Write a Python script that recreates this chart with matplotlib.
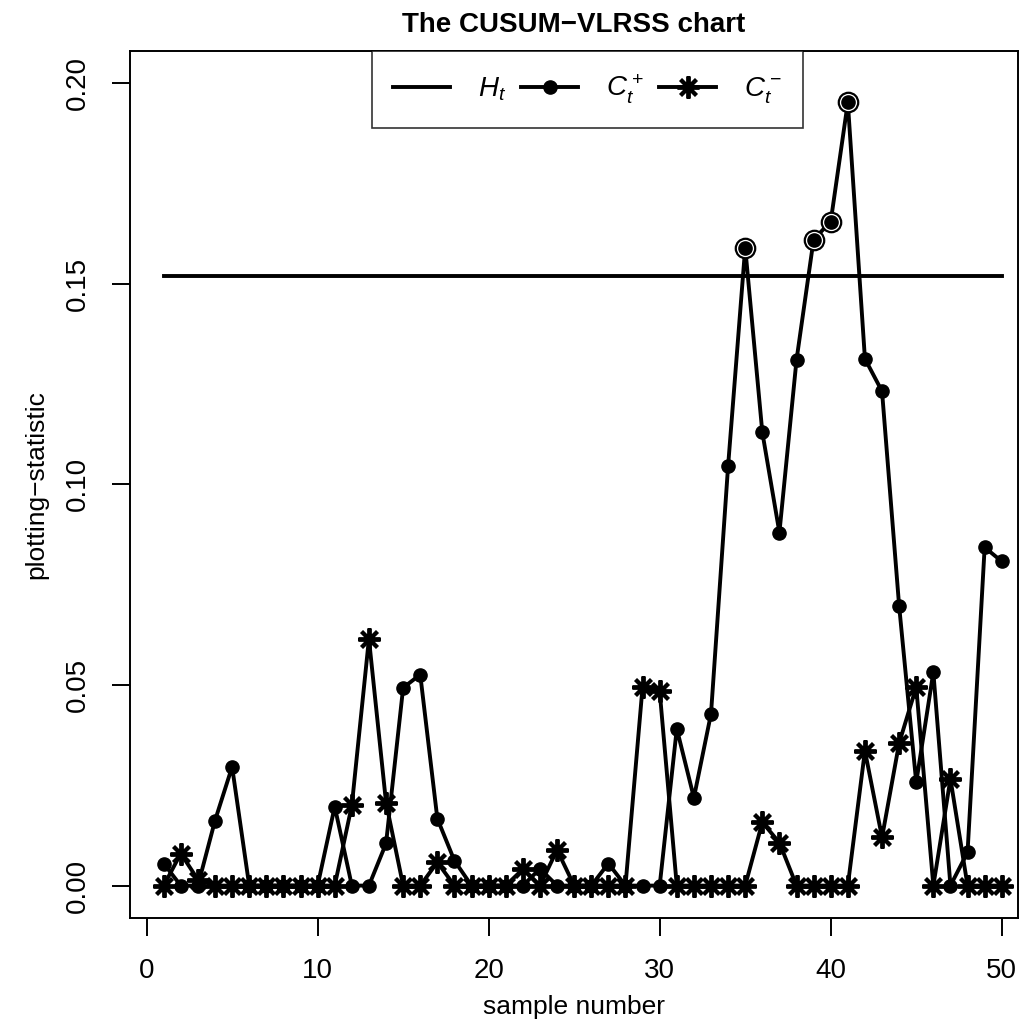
import numpy as np
import matplotlib.pyplot as plt

plt.rcParams['font.family'] = ['Liberation Sans', 'DejaVu Sans']
plt.rcParams['mathtext.fontset'] = 'custom'
plt.rcParams['mathtext.rm'] = 'Liberation Sans'
plt.rcParams['mathtext.it'] = 'Liberation Sans:italic'

# sample numbers and statistics
samples = np.arange(1, 51)
h_limit = 0.152
c_plus = [0.0055, 0.0, 0.0, 0.0162, 0.0296, 0.0, 0.0, 0.0, 0.0, 0.0,
          0.0197, 0.0, 0.0, 0.0105, 0.0493, 0.0526, 0.0167, 0.0062, 0.0, 0.0,
          0.0, 0.0, 0.0042, 0.0, 0.0, 0.0, 0.0055, 0.0, 0.0, 0.0,
          0.0391, 0.0219, 0.0428, 0.1046, 0.1590, 0.1130, 0.0880, 0.1310, 0.1610, 0.1655,
          0.1952, 0.1313, 0.1232, 0.0697, 0.0257, 0.0532, 0.0, 0.0083, 0.0843, 0.0808]
c_minus = [0.0, 0.0080, 0.0015, 0.0, 0.0, 0.0, 0.0, 0.0, 0.0, 0.0,
           0.0, 0.0200, 0.0615, 0.0207, 0.0, 0.0, 0.0058, 0.0, 0.0, 0.0,
           0.0, 0.0041, 0.0, 0.0089, 0.0, 0.0, 0.0, 0.0, 0.0496, 0.0484,
           0.0, 0.0, 0.0, 0.0, 0.0, 0.0158, 0.0107, 0.0, 0.0, 0.0,
           0.0, 0.0336, 0.0120, 0.0355, 0.0495, 0.0, 0.0266, 0.0, 0.0, 0.0]

c_plus = np.array(c_plus)
c_minus = np.array(c_minus)
out = (c_plus > h_limit) | (c_minus > h_limit)

fig = plt.figure(figsize=(10.23, 10.25), dpi=100)
ax = fig.add_axes([130/1023, 1 - 917.7/1025, 888/1023, 866.7/1025])

lw = 2.8
ax.plot(samples, np.full(len(samples), h_limit), color='black', lw=lw, label=r'$H_t$')
ax.plot(samples, c_plus, color='black', lw=lw, marker='o', ms=9.5, label=r'$C_t^+$')
ax.plot(samples, c_minus, color='black', lw=lw, marker=(8, 2, 0), ms=16, mew=2.8,
        label=r'$C_t^-$')
# rings round the out-of-control points
ax.plot(samples[out], c_plus[out], ls='none', marker='o', ms=14, mfc='white',
        mec='black', mew=1.6, zorder=3)
ax.plot(samples[out], c_plus[out], ls='none', marker='o', ms=9.5, color='black', zorder=4)

ax.set_xlim(-0.97, 50.95)
ax.set_ylim(-0.008, 0.208)
ax.set_xticks([0, 10, 20, 30, 40, 50])
ax.set_yticks([0.0, 0.05, 0.10, 0.15, 0.20])
ax.set_yticklabels(['0.00', '0.05', '0.10', '0.15', '0.20'], rotation=90, va='center')
ax.tick_params(labelsize=20, length=13, width=1.4, direction='out')
ax.tick_params(axis='x', pad=16)
ax.tick_params(axis='y', pad=15)
for s in ax.spines.values():
    s.set_linewidth(1.4)

ax.set_title('The CUSUM\u2212VLRSS chart', fontsize=20, fontweight='bold', pad=14)
ax.set_xlabel('sample number', fontsize=19, labelpad=8)
ax.set_ylabel('plotting\u2212statistic', fontsize=19, labelpad=12)

leg = ax.legend(loc='upper center', bbox_to_anchor=(0.515, 1.0), ncol=3, fontsize=20,
                frameon=True, fancybox=False, edgecolor='black', borderaxespad=0,
                handlelength=2.05, handletextpad=1.0, columnspacing=0.55, borderpad=0.78)
leg.get_frame().set_linewidth(1.2)

fig.savefig('out.png', dpi=100)
